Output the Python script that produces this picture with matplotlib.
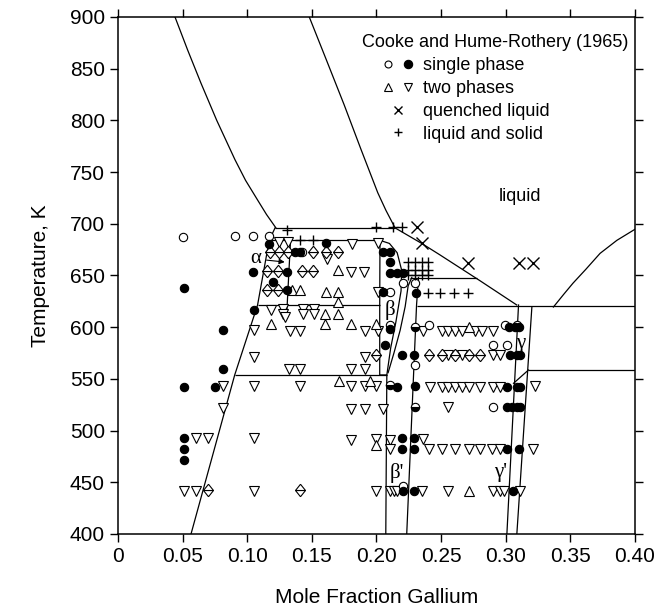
import matplotlib
matplotlib.use("Agg")
import matplotlib.pyplot as plt
from matplotlib.lines import Line2D
from matplotlib.legend_handler import HandlerTuple

plt.rcParams['font.family'] = ['Liberation Sans', 'DejaVu Sans']

# ---- phase boundaries (mole fraction Ga, temperature K) ----
liq_left_x = [0.0441, 0.0539, 0.0642, 0.0764, 0.0905, 0.0987, 0.108, 0.1149, 0.1222]
liq_left_T = [900, 868, 836, 800, 762, 742, 723, 709, 696]
liq_mid_x = [0.148, 0.1617, 0.175, 0.188, 0.201, 0.2073, 0.2144, 0.235, 0.249, 0.28, 0.3085]
liq_mid_T = [900, 857, 815, 772, 730, 713, 696, 681, 670, 645, 621.5]
liq_right_x = [0.3369, 0.345, 0.352, 0.362, 0.373, 0.386, 0.40]
liq_right_T = [619.5, 632, 642.5, 656, 671.4, 684, 694.7]

alpha_left_x = [0.0565, 0.0903, 0.108, 0.117, 0.1215]
alpha_left_T = [400, 553.8, 621.5, 684, 696]
alpha_right_x = [0.1335, 0.1305]
alpha_right_T = [684, 612]

beta_left_x = [0.2027, 0.2025, 0.2025, 0.208, 0.2072]
beta_left_T = [684, 621.5, 553.8, 553.8, 400]
beta_c1_x = [0.2027, 0.210, 0.216, 0.2195, 0.219, 0.215, 0.211, 0.208]
beta_c1_T = [684, 681, 672, 655, 635, 605, 580, 553.8]
beta_c2_x = [0.2273, 0.2245, 0.2222, 0.2183, 0.2135, 0.209]
beta_c2_T = [648, 640, 620, 597, 575, 556]
betap_right_x = [0.2325, 0.231, 0.2234]
betap_right_T = [648, 621.5, 400]

gamma_left_x = [0.3009, 0.3099]
gamma_left_T = [400, 621.5]
gamma_right_x = [0.3086, 0.3202]
gamma_right_T = [400, 619]
gamma_diag_x = [0.306, 0.3176]
gamma_diag_T = [545.7, 558.6]

# horizontal invariant lines: (x_start, x_end, T)
iso_x0 = [0.1215, 0.117, 0.108, 0.0903, 0.226, 0.231, 0.3176]
iso_x1 = [0.2144, 0.2027, 0.2025, 0.208, 0.2776, 0.40, 0.40]
iso_T = [696, 684, 621.5, 553.8, 648, 620.5, 558.6]

# ---- Cooke and Hume-Rothery (1965) data ----
open_x = [0.0503, 0.0905, 0.1047, 0.117, 0.142, 0.2105, 0.2203, 0.2298, 0.2105,
          0.241, 0.2996, 0.3086, 0.2905, 0.3009, 0.2299, 0.2905, 0.2208]
open_T = [687, 688, 688, 688, 673, 634, 643, 643, 602,
          602, 602, 602, 583, 583, 563, 523, 446]

half_x = [0.2299, 0.2105, 0.2299]
half_T = [600, 544, 523]

fill_x = [0.0508, 0.105, 0.081, 0.081, 0.051, 0.075, 0.051, 0.051, 0.051,
          0.117, 0.161, 0.2053, 0.2105, 0.137, 0.141, 0.2105, 0.1047, 0.1305,
          0.1202, 0.2105, 0.2157, 0.2208, 0.1305, 0.2053, 0.2306,
          0.2067, 0.2197, 0.229, 0.2105, 0.2157, 0.2295,
          0.2197, 0.229, 0.2197, 0.229, 0.2208, 0.229,
          0.3022, 0.3073, 0.3099, 0.3035, 0.3086, 0.3112, 0.3009, 0.3086, 0.3112,
          0.3009, 0.3047, 0.3086, 0.3107, 0.3009, 0.3099, 0.306]
fill_T = [637.5, 617, 597, 560, 542, 542, 492.5, 482, 471.5,
          680.5, 681, 673, 673, 673, 673, 663.4, 653.7, 653.7,
          644, 652, 652, 652, 636, 634, 633.4,
          583, 573, 573, 598, 542.5, 543,
          492.5, 492.5, 482, 482, 442, 442,
          600, 600, 600, 573, 573, 573, 542, 542, 542,
          523, 523, 523, 523, 482, 482, 442]

up_x = [0.118, 0.160, 0.180, 0.200, 0.160, 0.170, 0.170, 0.1705, 0.171, 0.195,
        0.135, 0.141, 0.161, 0.1705, 0.2712, 0.2712, 0.200]
up_T = [603, 603, 603, 603, 613, 613, 624, 655, 548, 548,
        636, 636, 634, 634, 600, 442, 486]

down_x = [0.118, 0.081, 0.105, 0.105, 0.105, 0.081, 0.060, 0.070, 0.105, 0.051, 0.060, 0.105,
          0.128, 0.128, 0.143, 0.143, 0.152, 0.152, 0.133, 0.141, 0.191, 0.2015, 0.191,
          0.132, 0.141, 0.180, 0.191, 0.141, 0.180, 0.191, 0.200, 0.180, 0.191, 0.2054,
          0.180, 0.2105, 0.2105, 0.200, 0.2105, 0.2135, 0.216, 0.200,
          0.1248, 0.1318, 0.181, 0.2015, 0.1615, 0.180, 0.1904, 0.1292, 0.2015,
          0.2359, 0.2506, 0.2557, 0.2609, 0.2660, 0.2764, 0.2815, 0.2905,
          0.2557, 0.2660, 0.2905, 0.2957,
          0.2415, 0.2506, 0.2557, 0.2609, 0.2660, 0.2712, 0.2802, 0.2905, 0.2957, 0.3228,
          0.2557, 0.2359,
          0.2410, 0.2506, 0.2609, 0.2712, 0.2802, 0.2893, 0.2957, 0.321,
          0.2351, 0.2557, 0.2905, 0.2957, 0.2983, 0.3112]
down_T = [617, 543, 597, 571.5, 543, 522, 492.5, 492.5, 492.5, 442, 442, 442,
          618, 613, 618, 613, 618, 613, 596, 596, 596, 596, 571.5,
          560, 560, 560, 560, 543, 543, 543, 543, 521, 521, 521,
          491, 491, 482, 442, 442, 442, 442, 492,
          682, 682, 680.5, 681, 666, 653, 653, 610, 634,
          596, 596, 596, 596, 596, 596, 596, 596,
          573, 573, 573, 573,
          542, 542, 542, 542, 542, 542, 542, 542, 542, 543,
          523, 492,
          482, 482, 482, 482, 482, 482, 482, 482,
          442, 442, 442, 442, 442, 442]

# points where both triangle types were recorded (drawn as a diamond)
both_x = [0.070, 0.141, 0.200, 0.1176, 0.1248, 0.1318, 0.151, 0.161, 0.1705,
          0.115, 0.124, 0.142, 0.151, 0.115, 0.124, 0.241, 0.2506, 0.2609, 0.2712, 0.2802]
both_T = [443, 443, 573, 673, 673, 673, 673, 673, 673,
          654, 654, 654, 654, 636, 636, 573, 573, 573, 573, 573]

cross_x = [0.231, 0.235, 0.271, 0.310, 0.321]
cross_T = [697, 681, 662, 662, 662]

plus_x = [0.1305, 0.141, 0.151, 0.200, 0.213, 0.2195,
          0.2247, 0.2298, 0.235, 0.2402, 0.2247, 0.2298, 0.235, 0.2402,
          0.2247, 0.2298, 0.235, 0.2402, 0.2402, 0.2492, 0.260, 0.271]
plus_T = [694, 684, 684, 697, 697, 697,
          663, 663, 663, 663, 655, 655, 655, 655,
          650, 650, 650, 650, 633, 633, 633, 633]

xticks = [0, 0.05, 0.10, 0.15, 0.20, 0.25, 0.30, 0.35, 0.40]
xticklabels = ['0', '0.05', '0.10', '0.15', '0.20', '0.25', '0.30', '0.35', '0.40']
yticks = [400, 450, 500, 550, 600, 650, 700, 750, 800, 850, 900]

fig = plt.figure(figsize=(6.72, 6.07), dpi=100)
ax = fig.add_axes([0.1756, 0.1203, 0.7693, 0.8517])

lw = 0.9
for xs, ts in [(liq_left_x, liq_left_T), (liq_mid_x, liq_mid_T), (liq_right_x, liq_right_T),
               (alpha_left_x, alpha_left_T), (alpha_right_x, alpha_right_T),
               (beta_left_x, beta_left_T), (beta_c1_x, beta_c1_T), (beta_c2_x, beta_c2_T),
               (betap_right_x, betap_right_T), (gamma_left_x, gamma_left_T),
               (gamma_right_x, gamma_right_T), (gamma_diag_x, gamma_diag_T)]:
    ax.plot(xs, ts, color='k', lw=lw, zorder=2)
ax.hlines(iso_T, iso_x0, iso_x1, color='k', lw=lw, zorder=2)

# half-triangles sharing a base, so that together they make a diamond
tri_top = [(0, 1), (-0.8, 0), (0.8, 0), (0, 1)]
tri_bot = [(0, -1), (-0.8, 0), (0.8, 0), (0, -1)]

mk = dict(ls='none', mec='k', mew=0.8, zorder=3)
ax.plot(down_x, down_T, marker='v', ms=6.5, mfc='white', **mk)
ax.plot(up_x, up_T, marker='^', ms=6.5, mfc='white', **mk)
ax.plot(both_x, both_T, marker=tri_bot, ms=9, mfc='white', **mk)
ax.plot(both_x, both_T, marker=tri_top, ms=9, mfc='white', **mk)
ax.plot(open_x, open_T, marker='o', ms=6, mfc='white', **mk)
ax.plot(half_x, half_T, marker='o', ms=6, mfc='k', mfcalt='white', fillstyle='bottom', **mk)
ax.plot(fill_x, fill_T, marker='o', ms=6, mfc='k', **mk)
ax.plot(cross_x, cross_T, marker='x', ms=8, color='k', ls='none', mew=1.0, zorder=3)
ax.plot(plus_x, plus_T, marker='+', ms=7, color='k', ls='none', mew=1.0, zorder=3)

serif = ['Liberation Serif', 'DejaVu Serif']
ax.annotate('α', xy=(0.129, 663), xytext=(0.1065, 666), fontsize=15, family=serif,
            ha='center', va='center',
            arrowprops=dict(arrowstyle='-|>', lw=0.8, color='k', mutation_scale=8,
                            shrinkA=2, shrinkB=0))
ax.text(0.2105, 617, 'β', fontsize=15, family=serif, ha='center', va='center')
ax.text(0.2157, 459, "β'", fontsize=15, family=serif, ha='center', va='center')
ax.text(0.3112, 584, 'γ', fontsize=15, family=serif, ha='center', va='center')
ax.text(0.2957, 459, "γ'", fontsize=15, family=serif, ha='center', va='center')
ax.text(0.311, 726, 'liquid', fontsize=13, ha='center', va='center')

ax.set_xlim(0, 0.40)
ax.set_ylim(400, 900)
ax.set_xticks(xticks)
ax.set_xticklabels(xticklabels)
ax.set_yticks(yticks)
ax.tick_params(direction='out', length=6, width=1, labelsize=15,
               top=True, right=True, labeltop=False, labelright=False)
for s in ax.spines.values():
    s.set_linewidth(1.1)
ax.set_xlabel('Mole Fraction Gallium', fontsize=15, labelpad=16)
ax.set_ylabel('Temperature, K', fontsize=15, labelpad=14)

# legend
ax.text(0.472, 0.950, 'Cooke and Hume-Rothery (1965)', transform=ax.transAxes,
        fontsize=13, ha='left', va='center')
h_open = Line2D([], [], marker='o', ms=5, mfc='white', **mk)
h_fill = Line2D([], [], marker='o', ms=6, mfc='k', **mk)
h_up = Line2D([], [], marker='^', ms=5.5, mfc='white', **mk)
h_dn = Line2D([], [], marker='v', ms=5.5, mfc='white', **mk)
h_x = Line2D([], [], marker='x', ms=6, color='k', ls='none', mew=1.0)
h_p = Line2D([], [], marker='+', ms=6, color='k', ls='none', mew=1.0)
ax.legend([(h_open, h_fill), (h_up, h_dn), h_x, h_p],
          ['single phase', 'two phases', 'quenched liquid', 'liquid and solid'],
          handler_map={tuple: HandlerTuple(ndivide=None, pad=0.5)},
          loc='upper left', bbox_to_anchor=(0.51, 0.922), borderaxespad=0, borderpad=0,
          frameon=False, fontsize=13, handlelength=1.8, handletextpad=0.5,
          labelspacing=0.32)

fig.savefig('out.png', dpi=100)
